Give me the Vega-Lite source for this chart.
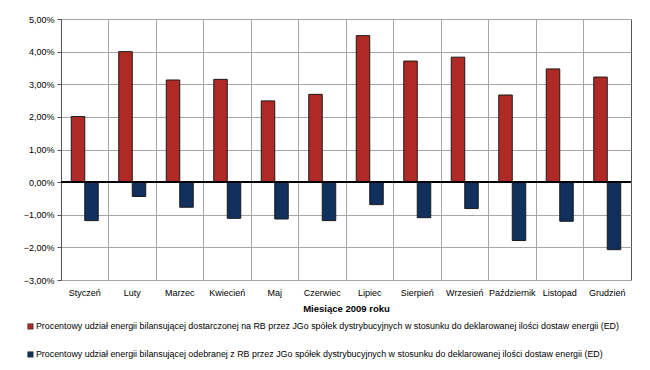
{
  "$schema": "https://vega.github.io/schema/vega-lite/v6.json",
  "width": 570,
  "height": 261,
  "autosize": {"type": "none"},
  "padding": {"left": 61, "top": 19, "right": 19, "bottom": 90},
  "background": "white",
  "config": {
    "font": "Liberation Sans",
    "view": {"stroke": "#555555", "strokeWidth": 1},
    "axis": {"labelFont": "Liberation Sans", "titleFont": "Liberation Sans", "labelColor": "#000000", "titleColor": "#000000"},
    "axisY": {
      "title": null,
      "values": [-3, -2, -1, 0, 1, 2, 3, 4, 5],
      "labelOverlap": false,
      "labelFontSize": 9,
      "labelPadding": 3,
      "tickSize": 4,
      "tickColor": "#555555",
      "domainColor": "#555555",
      "grid": true,
      "gridColor": "#a6a6a6",
      "gridWidth": 1
    }
  },
  "data": {
    "values": [
      {"month": "Styczeń", "series": "A", "value": 2.01},
      {"month": "Styczeń", "series": "B", "value": -1.18},
      {"month": "Luty", "series": "A", "value": 4.00},
      {"month": "Luty", "series": "B", "value": -0.44},
      {"month": "Marzec", "series": "A", "value": 3.13},
      {"month": "Marzec", "series": "B", "value": -0.77},
      {"month": "Kwiecień", "series": "A", "value": 3.15},
      {"month": "Kwiecień", "series": "B", "value": -1.11},
      {"month": "Maj", "series": "A", "value": 2.49},
      {"month": "Maj", "series": "B", "value": -1.13},
      {"month": "Czerwiec", "series": "A", "value": 2.69},
      {"month": "Czerwiec", "series": "B", "value": -1.18},
      {"month": "Lipiec", "series": "A", "value": 4.49},
      {"month": "Lipiec", "series": "B", "value": -0.69},
      {"month": "Sierpień", "series": "A", "value": 3.71},
      {"month": "Sierpień", "series": "B", "value": -1.09},
      {"month": "Wrzesień", "series": "A", "value": 3.83},
      {"month": "Wrzesień", "series": "B", "value": -0.81},
      {"month": "Październik", "series": "A", "value": 2.67},
      {"month": "Październik", "series": "B", "value": -1.79},
      {"month": "Listopad", "series": "A", "value": 3.47},
      {"month": "Listopad", "series": "B", "value": -1.20},
      {"month": "Grudzień", "series": "A", "value": 3.22},
      {"month": "Grudzień", "series": "B", "value": -2.07}
    ]
  },
  "layer": [
    {
      "mark": {"type": "bar", "stroke": "#1a1a1a", "strokeWidth": 1},
      "encoding": {
        "x": {
          "field": "month",
          "type": "nominal",
          "sort": null,
          "scale": {"paddingInner": 0, "paddingOuter": 0},
          "axis": {
            "title": "Miesiące 2009  roku",
            "titleFontSize": 9.5,
            "titleFontWeight": "bold",
            "titlePadding": 6,
            "labelAngle": 0,
            "labelFontSize": 9,
            "labelPadding": 8,
            "bandPosition": 0,
            "grid": true,
            "gridColor": "#a6a6a6",
            "gridWidth": 1,
            "ticks": false,
            "domain": false
          }
        },
        "xOffset": {
          "field": "series",
          "type": "nominal",
          "scale": {"paddingInner": 0, "paddingOuter": 0.76}
        },
        "y": {
          "field": "value",
          "type": "quantitative",
          "scale": {"domain": [-3, 5], "nice": false, "zero": false},
          "axis": {
            "values": [-3, -2, -1, 0, 1, 2, 3, 4, 5],
            "labelExpr": "replace(format(datum.value, '.2f'), '.', ',') + '%'"
          }
        },
        "color": {
          "field": "series",
          "type": "nominal",
          "scale": {"domain": ["A", "B"], "range": ["#B02A25", "#12305E"]},
          "legend": {
            "orient": "none",
            "legendX": -35,
            "legendY": 303,
            "direction": "vertical",
            "title": null,
            "symbolType": "square",
            "symbolSize": 30,
            "symbolStrokeColor": "#222222",
            "symbolStrokeWidth": 0.5,
            "labelFontSize": 8.9,
            "labelLimit": 0,
            "labelOffset": 1,
            "rowPadding": 18,
            "labelExpr": "datum.value == 'A' ? 'Procentowy udział energii bilansującej dostarczonej na RB przez JGo spółek dystrybucyjnych w stosunku do deklarowanej ilości dostaw energii (ED)' : 'Procentowy udział energii bilansującej odebranej z RB przez JGo spółek dystrybucyjnych w stosunku do deklarowanej ilości dostaw energii (ED)'"
          }
        }
      }
    },
    {
      "mark": {"type": "rule", "color": "#000000", "strokeWidth": 1},
      "encoding": {
        "y": {
          "datum": 0,
          "type": "quantitative",
          "axis": {
            "values": [-3, -2, -1, 0, 1, 2, 3, 4, 5],
            "labelExpr": "replace(format(datum.value, '.2f'), '.', ',') + '%'"
          }
        }
      }
    }
  ]
}
